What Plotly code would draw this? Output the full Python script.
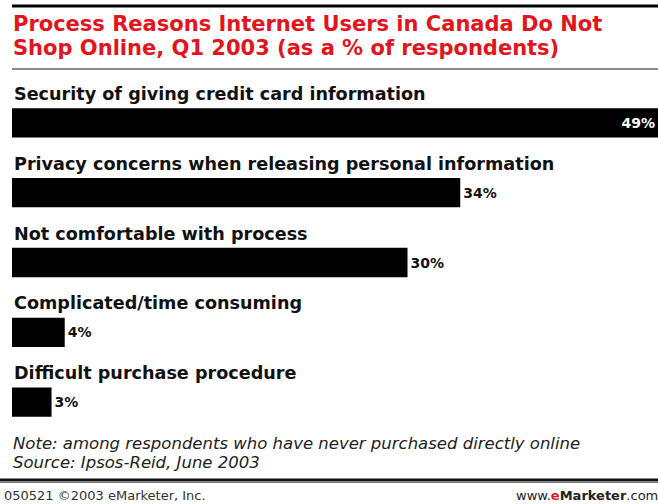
import plotly.graph_objects as go

# Survey data
categories = [
    "Security of giving credit card information",
    "Privacy concerns when releasing personal information",
    "Not comfortable with process",
    "Complicated/time consuming",
    "Difficult purchase procedure",
]
values = [49, 34, 30, 4, 3]
value_labels = ["49%", "34%", "30%", "4%", "3%"]

title_lines = [
    "Process Reasons Internet Users in Canada Do Not",
    "Shop Online, Q1 2003 (as a % of respondents)",
]
note_lines = [
    "Note: among respondents who have never purchased directly online",
    "Source: Ipsos-Reid, June 2003",
]
footer_left = "050521 \u00a92003 eMarketer, Inc."

W, H = 658, 504
ML, MR, MT, MB = 12, 0, 88, 67
PW, PH = W - ML - MR, H - MT - MB


def xp(px):
    return (px - ML) / PW


def yp(py):
    return (H - MB - py) / PH


BOLD_FONT = "DejaVu Sans"
RED = "#e3141b"

ypos = list(range(len(categories)))
text_pos = ["inside" if v == max(values) else "outside" for v in values]

fig = go.Figure(
    go.Bar(
        x=values,
        y=ypos,
        orientation="h",
        width=0.42,
        marker=dict(color="#000000", line=dict(width=0)),
        text=value_labels,
        textposition=text_pos,
        insidetextanchor="end",
        textfont=dict(family=BOLD_FONT, size=14, color="#000000", weight="bold"),
        insidetextfont=dict(family=BOLD_FONT, size=14, color="#ffffff", weight="bold"),
        outsidetextfont=dict(family=BOLD_FONT, size=14, color="#111111", weight="bold"),
        cliponaxis=False,
        hoverinfo="skip",
    )
)

annotations = []
for i, cat in enumerate(categories):
    annotations.append(dict(
        x=0, xref="paper", y=i, yref="y", yshift=29,
        text=cat, showarrow=False, xanchor="left", yanchor="middle",
        font=dict(family=BOLD_FONT, size=17.6, color="#111111", weight="bold"),
    ))

for line, py in zip(title_lines, [24, 48.5]):
    annotations.append(dict(
        x=xp(11), xref="paper", y=yp(py), yref="paper",
        text=line, showarrow=False, xanchor="left", yanchor="middle",
        font=dict(family=BOLD_FONT, size=21, color=RED, weight="bold"),
    ))

for line, py in zip(note_lines, [443.5, 462.5]):
    annotations.append(dict(
        x=xp(11), xref="paper", y=yp(py), yref="paper",
        text=f"<i>{line}</i>", showarrow=False, xanchor="left", yanchor="middle",
        font=dict(family="DejaVu Sans", size=16.5, color="#222222"),
    ))

annotations.append(dict(
    x=xp(2), xref="paper", y=yp(496), yref="paper",
    text=footer_left, showarrow=False, xanchor="left", yanchor="middle",
    font=dict(family="DejaVu Sans", size=13, color="#333333"),
))
annotations.append(dict(
    x=xp(660), xref="paper", y=yp(496), yref="paper",
    text="www.<b><span style='color:#e3141b'>e</span>Marketer</b>.com",
    showarrow=False, xanchor="right", yanchor="middle",
    font=dict(family="DejaVu Sans", size=13, color="#222222"),
))

shapes = [
    dict(type="line", xref="paper", yref="paper", x0=xp(12), x1=xp(658),
         y0=yp(6), y1=yp(6), line=dict(color="#000000", width=3)),
    dict(type="line", xref="paper", yref="paper", x0=xp(12), x1=xp(658),
         y0=yp(69), y1=yp(69), line=dict(color="#8a8a8a", width=2)),
    dict(type="line", xref="paper", yref="paper", x0=xp(0), x1=xp(658),
         y0=yp(480), y1=yp(480), line=dict(color="#111111", width=3)),
    dict(type="line", xref="paper", yref="paper", x0=xp(0), x1=xp(658),
         y0=yp(482.5), y1=yp(482.5), line=dict(color="#777777", width=1)),
]

fig.update_layout(
    width=W, height=H,
    margin=dict(l=ML, r=MR, t=MT, b=MB, pad=0),
    paper_bgcolor="#ffffff", plot_bgcolor="#ffffff",
    showlegend=False,
    xaxis=dict(range=[0, 49], visible=False, fixedrange=True),
    yaxis=dict(range=[len(categories) - 0.5, -0.5], visible=False, fixedrange=True),
    annotations=annotations,
    shapes=shapes,
    uniformtext=dict(minsize=14, mode="show"),
)

fig.write_html("out.html", config={"displayModeBar": False})
